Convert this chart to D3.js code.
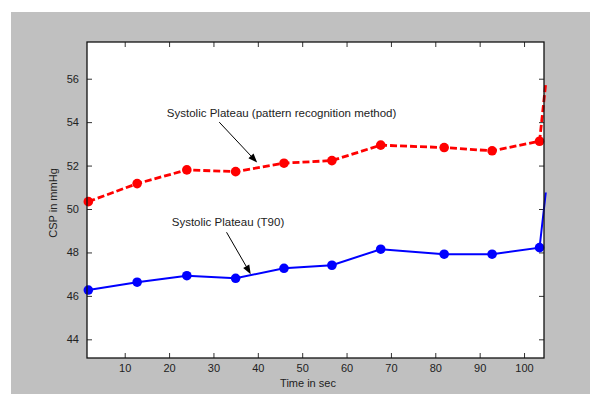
<!DOCTYPE html>
<html><head><meta charset="utf-8">
<script src="https://cdn.jsdelivr.net/npm/d3@7"></script>
<style>body{margin:0;background:#fff}svg{display:block}text{font-family:"Liberation Sans",Arial,sans-serif}</style>
</head><body><svg id="c" width="590" height="394"></svg>
<script>
const timeSec = [1.8, 12.8, 24.0, 35.0, 45.9, 56.7, 67.7, 82.0, 92.8, 103.5, 104.9];
const patternValues = [50.34, 51.17, 51.80, 51.72, 52.11, 52.23, 52.94, 52.83, 52.68, 53.12, 55.8];
const t90Values = [46.27, 46.63, 46.93, 46.81, 47.27, 47.41, 48.15, 47.92, 47.92, 48.22, 50.76];
const markerCount = 10;
const xTicks = [10, 20, 30, 40, 50, 60, 70, 80, 90, 100];
const yTicks = [44, 46, 48, 50, 52, 54, 56];
const xDomain = [1.5, 104.5];
const yDomain = [43.14, 57.69];
const annotations = [
  {text: "Systolic Plateau (pattern recognition method)", tx: 19.5, ty: 54.24, from: [31.3, 54.0], to: [39.85, 52.14]},
  {text: "Systolic Plateau (T90)", tx: 20.6, ty: 49.24, from: [32.95, 48.93], to: [38.4, 47.0]}
];

const svg = d3.select("#c");
const L = 87, T = 42, R = 544, B = 358;
svg.append("rect").attr("x", 11).attr("y", 12).attr("width", 579).attr("height", 382).attr("fill", "#c0c0c0");
svg.append("rect").attr("x", L).attr("y", T).attr("width", R - L).attr("height", B - T).attr("fill", "#fff");

const x = d3.scaleLinear().domain(xDomain).range([L, R]);
const y = d3.scaleLinear().domain(yDomain).range([B, T]);

const tickLen = 5;
const ax = (g) => g.call(s => s.select(".domain").remove()).call(s => s.selectAll("line").attr("stroke", "#333")).call(s => s.selectAll("text").attr("fill", "#222").style("font-size", "11px"));
svg.append("g").attr("transform", `translate(0,${B})`).call(d3.axisBottom(x).tickValues(xTicks).tickSize(-tickLen).tickPadding(6)).call(ax);
svg.append("g").attr("transform", `translate(0,${T})`).call(d3.axisTop(x).tickValues(xTicks).tickSize(-tickLen).tickFormat("")).call(ax);
svg.append("g").attr("transform", `translate(${L},0)`).call(d3.axisLeft(y).tickValues(yTicks).tickSize(-tickLen).tickPadding(8)).call(ax);
svg.append("g").attr("transform", `translate(${R},0)`).call(d3.axisRight(y).tickValues(yTicks).tickSize(-tickLen).tickFormat("")).call(ax);

const red = timeSec.map((t, i) => [t, patternValues[i]]);
const blue = timeSec.map((t, i) => [t, t90Values[i]]);
const line = d3.line().x(d => x(d[0])).y(d => y(d[1]));

svg.append("path").attr("d", line(red)).attr("fill", "none").attr("stroke", "#ff0000").attr("stroke-width", 2.8).attr("stroke-dasharray", "7,3");
svg.append("path").attr("d", line(blue)).attr("fill", "none").attr("stroke", "#0000ff").attr("stroke-width", 2);
svg.selectAll(".rm").data(red.slice(0, markerCount)).enter().append("circle").attr("cx", d => x(d[0])).attr("cy", d => y(d[1])).attr("r", 4.8).attr("fill", "#ff0000");
svg.selectAll(".bm").data(blue.slice(0, markerCount)).enter().append("circle").attr("cx", d => x(d[0])).attr("cy", d => y(d[1])).attr("r", 4.8).attr("fill", "#0000ff");

svg.append("rect").attr("x", L).attr("y", T).attr("width", R - L).attr("height", B - T).attr("fill", "none").attr("stroke", "#111").attr("stroke-width", 1.3);

annotations.forEach(a => {
  svg.append("text").attr("x", x(a.tx)).attr("y", y(a.ty)).attr("fill", "#222").style("font-size", "11.5px").text(a.text);
  const x1 = x(a.from[0]), y1 = y(a.from[1]), x2 = x(a.to[0]), y2 = y(a.to[1]);
  const ang = Math.atan2(y2 - y1, x2 - x1), hl = 9, hw = 3.5;
  const bx = x2 - hl * Math.cos(ang), by = y2 - hl * Math.sin(ang);
  svg.append("line").attr("x1", x1).attr("y1", y1).attr("x2", bx).attr("y2", by).attr("stroke", "#000").attr("stroke-width", 1);
  svg.append("path").attr("d", `M${x2},${y2}L${bx - hw * Math.sin(ang)},${by + hw * Math.cos(ang)}L${bx + hw * Math.sin(ang)},${by - hw * Math.cos(ang)}Z`).attr("fill", "#000");
});

svg.append("text").attr("x", 308).attr("y", 387).attr("text-anchor", "middle").attr("fill", "#222").style("font-size", "11px").text("Time in sec");
svg.append("text").attr("transform", "translate(57,203) rotate(-90)").attr("text-anchor", "middle").attr("fill", "#222").style("font-size", "11px").text("CSP in mmHg");
</script></body></html>
